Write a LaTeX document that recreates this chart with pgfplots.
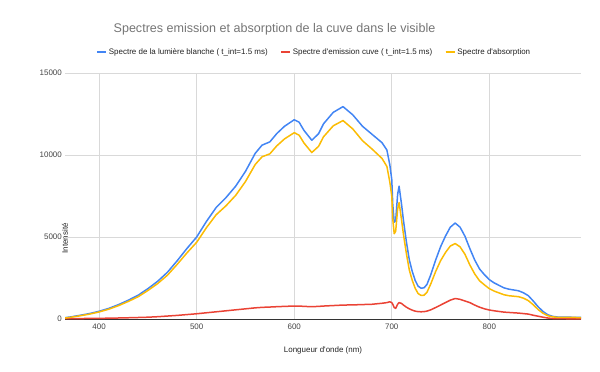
\documentclass[border=0pt]{standalone}
\usepackage{pgfplots}
\pgfplotsset{compat=1.18}
\usepackage{pgfplotstable}
\usepackage{fontspec}
\setmainfont{Liberation Sans}
\definecolor{gblue}{HTML}{4285F4}
\definecolor{gred}{HTML}{EA4335}
\definecolor{gyellow}{HTML}{FBBC04}
\definecolor{gridc}{HTML}{D9D9D9}
\definecolor{basec}{HTML}{333333}
\definecolor{tickc}{HTML}{444444}
\definecolor{labc}{HTML}{222222}
\definecolor{titlec}{HTML}{757575}

\pgfplotstableread{
x blue red yellow
365 80 20 60
370 120 22 98
380 220 28 192
390 330 34 296
400 470 40 430
410 650 50 600
420 880 62 818
430 1150 76 1074
440 1450 92 1358
450 1850 110 1740
460 2300 140 2160
470 2850 180 2670
480 3550 220 3330
490 4300 270 4030
500 5000 320 4680
510 5950 380 5570
520 6800 440 6360
530 7400 500 6900
540 8100 560 7540
550 9000 620 8380
560 10100 680 9420
567 10600 710 9890
575 10800 730 10070
582 11300 750 10550
590 11750 770 10980
600 12150 790 11360
605 12000 790 11210
610 11500 770 10730
618 10900 750 10150
625 11300 770 10530
630 11900 790 11110
640 12600 820 11780
650 12950 850 12100
660 12450 860 11590
670 11750 880 10870
680 11250 900 10350
690 10750 960 9790
695 10300 1000 9300
698 9400 1050 8350
700 8500 1000 7500
701 7000 900 6100
702.5 5900 700 5200
704 6000 650 5350
706 7600 900 6700
707.5 8100 1000 7100
710 7000 950 6050
712 6000 850 5150
715 4700 720 3980
718 3600 620 2980
721 2900 540 2360
724 2350 480 1870
727 2000 450 1550
730 1880 440 1440
733 1900 450 1450
736 2100 480 1620
740 2700 560 2140
745 3600 700 2900
750 4400 850 3550
755 5050 1000 4050
760 5600 1150 4450
765 5850 1250 4600
770 5600 1200 4400
775 5050 1100 3950
780 4300 1000 3300
785 3600 850 2750
790 3050 720 2330
795 2700 620 2080
800 2400 550 1850
805 2200 500 1700
810 2050 460 1590
815 1900 420 1480
820 1820 400 1420
825 1770 380 1390
830 1720 360 1360
835 1600 330 1270
840 1420 300 1120
845 1100 230 870
850 750 170 580
855 460 110 350
860 260 60 200
865 160 30 130
870 120 20 100
880 110 15 95
894 100 10 90
}\spectra

\begin{document}
\begin{tikzpicture}[x=1bp,y=1bp]
\path[use as bounding box] (0,0) rectangle (600,371);
\node[anchor=base, text=titlec, inner sep=0pt, font=\fontsize{12.6}{15}\selectfont] at (274.5,338.3) {Spectres emission et absorption de la cuve dans le visible};
\begin{axis}[
  at={(65bp,52bp)}, anchor=south west,
  scale only axis, width=516bp, height=246bp,
  xmin=365, xmax=894, ymin=0, ymax=15000,
  axis line style={draw=none},
  xtick={400,500,...,800}, ytick={0,5000,10000,15000},
  major tick length=0pt,
  xmajorgrids, ymajorgrids,
  grid style={gridc, line width=0.8bp},
  scaled y ticks=false,
  /pgf/number format/assume math mode=true,
  /pgf/number format/1000 sep={},
  ticklabel style={font=\fontsize{8}{9}\selectfont, text=tickc, inner sep=0pt},
  xticklabel style={anchor=north, yshift=-5bp},
  yticklabel style={anchor=east, xshift=-3bp},
  xlabel={Longueur d\textquotesingle onde (nm)},
  ylabel={Intensité},
  label style={font=\fontsize{8}{9}\selectfont, text=labc},
  xlabel style={at={(rel axis cs:0.5,0)}, anchor=center, yshift=-31bp},
  ylabel style={at={(rel axis cs:0,0.5)}, anchor=center, xshift=-42.3bp},
  legend columns=3,
  legend cell align=left,
  legend style={at={(rel axis cs:0.4826,1.0854)}, anchor=center, draw=none, fill=none,
    font=\fontsize{8}{9}\selectfont, text=labc, inner sep=0pt,
    /tikz/every even column/.append style={column sep=10bp}},
  legend image code/.code={\draw[#1, line width=2.6bp, line cap=butt] (0bp,0bp) -- (7bp,0bp); \path (0bp,0bp) -- (9bp,0bp);},
  every axis plot/.append style={line width=1.5bp, line join=round},
]
\draw[basec, line width=0.8bp] (axis cs:365,0) -- (axis cs:894,0);
\addplot[gblue] table[x=x, y=blue] {\spectra};
\addlegendentry{Spectre de la lumière blanche ( t\_int=1.5 ms)}
\addplot[gred] table[x=x, y=red] {\spectra};
\addlegendentry{Spectre d\textquotesingle emission cuve ( t\_int=1.5 ms)}
\addplot[gyellow] table[x=x, y=yellow] {\spectra};
\addlegendentry{Spectre d\textquotesingle absorption}
\end{axis}
\end{tikzpicture}
\end{document}
